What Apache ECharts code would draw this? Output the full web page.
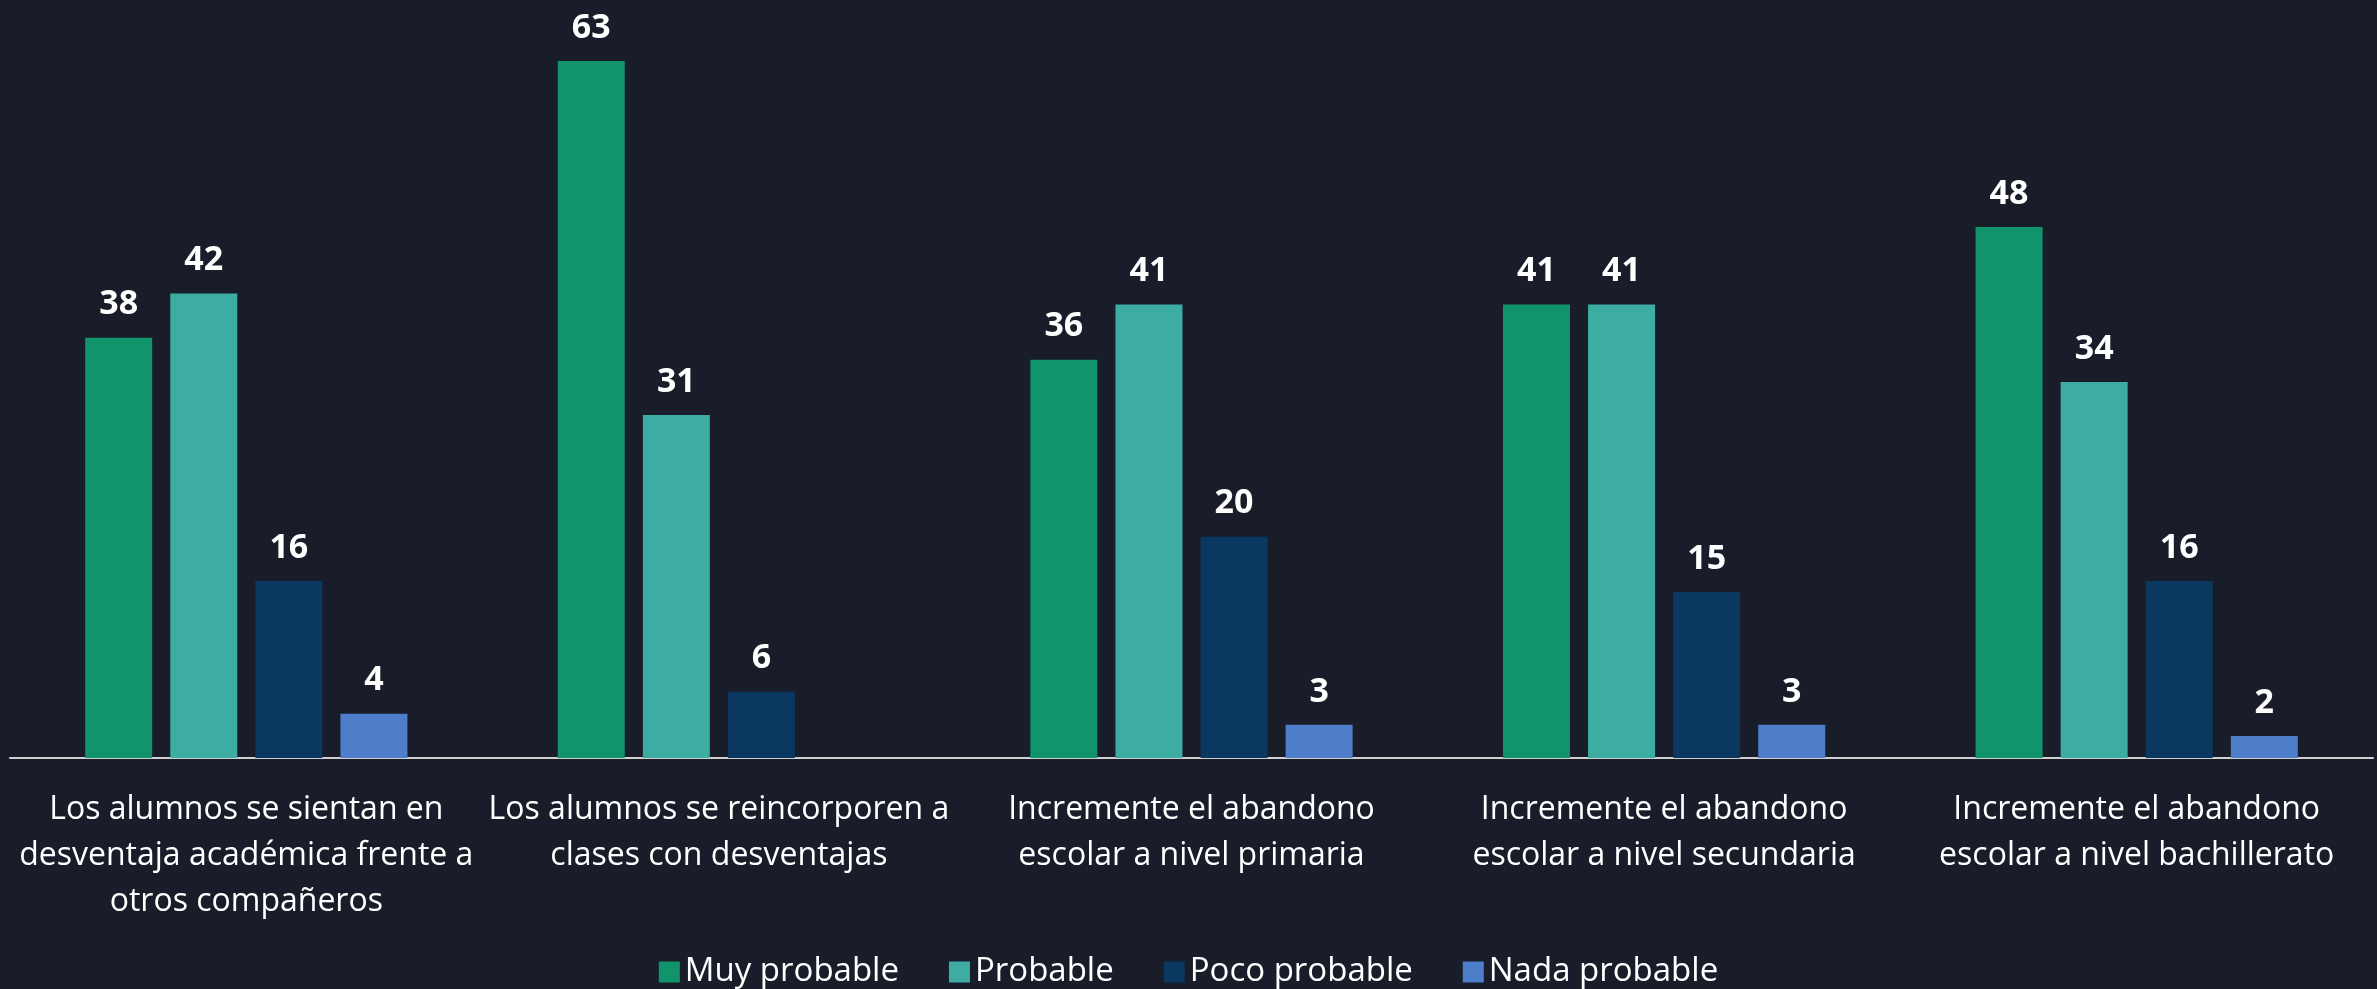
<!DOCTYPE html>
<html>
<head>
<meta charset="utf-8">
<script src="https://cdn.jsdelivr.net/npm/echarts@6/dist/echarts.min.js"></script>
<style>
    html, body { margin: 0; padding: 0; background: #181d29; }
    #chart { width: 2377px; height: 989px; }
</style>
</head>
<body>
<div id="chart"></div>
<script>
// categorias del eje x
var categories = [
    'Los alumnos se sientan en\ndesventaja académica frente a\notros compañeros',
    'Los alumnos se reincorporen a\nclases con desventajas',
    'Incremente el abandono\nescolar a nivel primaria',
    'Incremente el abandono\nescolar a nivel secundaria',
    'Incremente el abandono\nescolar a nivel bachillerato'
];
var seriesNames = ['Muy probable', 'Probable', 'Poco probable', 'Nada probable'];
var muyProbable = [38, 63, 36, 41, 48];
var probable = [42, 31, 41, 41, 34];
var pocoProbable = [16, 6, 20, 15, 16];
var nadaProbable = [4, null, 3, 3, 2];
var colors = ['#11946c', '#3dada4', '#0b3860', '#4e7dca'];

var chart = echarts.init(document.getElementById('chart'));

function makeSeries(name, data, color) {
    return {
        name: name,
        type: 'bar',
        data: data,
        barWidth: 67,
        barGap: '27%',
        itemStyle: { color: color },
        label: {
            show: true,
            position: 'top',
            distance: 16,
            color: '#ffffff',
            fontSize: 34,
            fontWeight: 'bold',
            fontFamily: 'Open Sans'
        }
    };
}

var option = {
    backgroundColor: '#181d29',
    animation: false,
    color: colors,
    legend: {
        data: seriesNames,
        top: 947,
        left: 'center',
        itemWidth: 21,
        itemHeight: 21,
        itemGap: 50,
        icon: 'rect',
        textStyle: {
            color: '#ffffff',
            fontSize: 33,
            lineHeight: 40,
            fontFamily: 'Open Sans'
        }
    },
    grid: {
        left: 10,
        right: 4,
        top: 39,
        bottom: 231,
        containLabel: false
    },
    xAxis: {
        type: 'category',
        data: categories,
        axisTick: { show: false },
        axisLine: { lineStyle: { color: '#d0d0d0', width: 2 } },
        axisLabel: {
            interval: 0,
            margin: 29,
            color: '#ffffff',
            fontSize: 32,
            lineHeight: 46,
            fontFamily: 'Open Sans'
        }
    },
    yAxis: {
        type: 'value',
        min: 0,
        max: 65,
        show: false,
        splitLine: { show: false }
    },
    series: [
        makeSeries(seriesNames[0], muyProbable, colors[0]),
        makeSeries(seriesNames[1], probable, colors[1]),
        makeSeries(seriesNames[2], pocoProbable, colors[2]),
        makeSeries(seriesNames[3], nadaProbable, colors[3])
    ]
};

chart.setOption(option);
</script>
</body>
</html>
